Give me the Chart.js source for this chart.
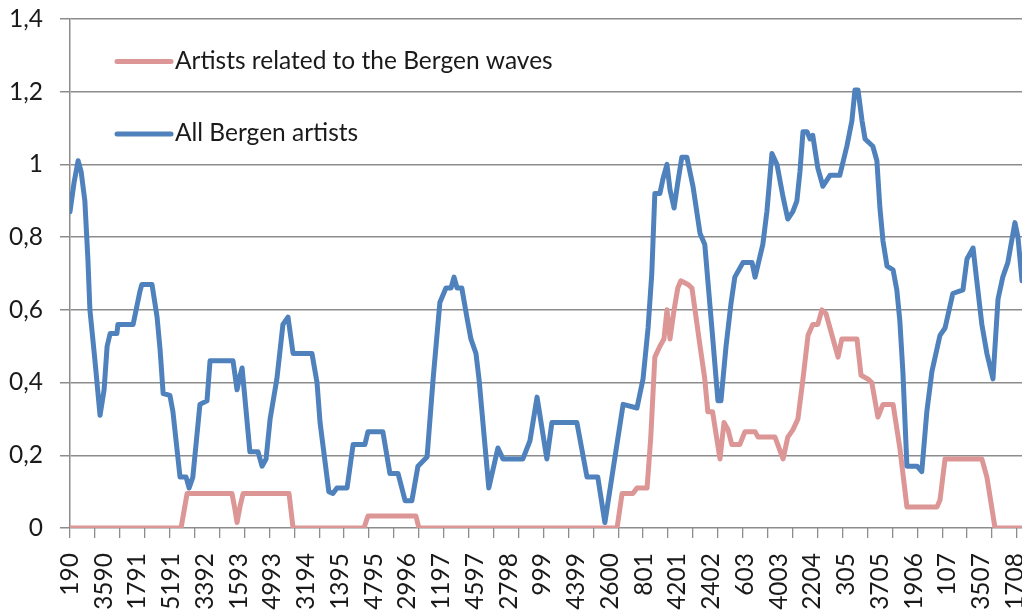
<!DOCTYPE html>
<html>
<head>
<meta charset="utf-8">
<script src="https://cdn.jsdelivr.net/npm/chart.js@4.4.1/dist/chart.umd.min.js"></script>
<style>
  html, body { margin: 0; padding: 0; background: #ffffff; }
  #wrap { position: relative; width: 1022px; height: 610px; }
</style>
</head>
<body>
<div id="wrap"><canvas id="c" width="1022" height="610"></canvas></div>
<script>
// ---- data ----
const tickLabels = ['190','3590','1791','5191','3392','1593','4993','3194','1395','4795','2996','1197','4597','2798','999','4399','2600','801','4201','2402','603','4003','2204','305','3705','1906','107','3507','1708'];
const yTickLabels = ['0','0,2','0,4','0,6','0,8','1','1,2','1,4'];
const seriesNames = ['Artists related to the Bergen waves', 'All Bergen artists'];

// x positions are in units of the label interval (0 = "190", 1 = "3590", ...)
const pinkX = [0,3.29,3.47,4.80,4.89,4.95,5.04,5.13,6.49,6.61,8.71,8.83,10.25,10.34,16.21,16.36,16.68,16.80,17.10,17.21,17.33,17.48,17.60,17.69,17.78,17.90,18.01,18.10,18.31,18.43,18.55,18.67,18.81,18.90,19.04,19.26,19.38,19.50,19.61,19.85,20.00,20.30,20.39,20.89,21.13,21.27,21.42,21.57,21.72,21.87,22.01,22.16,22.28,22.40,22.52,22.67,22.76,22.87,23.32,23.44,23.64,23.76,23.94,24.09,24.39,24.59,24.80,25.69,25.78,25.93,27.02,27.17,27.41,28.21];
const pinkY = [0,0,0.095,0.095,0.05,0.015,0.06,0.095,0.095,0,0,0.033,0.033,0,0,0.095,0.095,0.11,0.11,0.25,0.47,0.5,0.52,0.6,0.52,0.6,0.66,0.68,0.67,0.66,0.58,0.50,0.41,0.32,0.32,0.19,0.29,0.27,0.23,0.23,0.265,0.265,0.25,0.25,0.19,0.25,0.27,0.30,0.41,0.53,0.56,0.56,0.60,0.59,0.55,0.50,0.47,0.52,0.52,0.42,0.41,0.40,0.305,0.34,0.34,0.22,0.058,0.058,0.077,0.19,0.19,0.14,0,0];

const blueX = [0,0.12,0.24,0.33,0.44,0.53,0.59,0.74,0.89,1.01,1.10,1.19,1.39,1.42,1.87,1.96,2.07,2.13,2.43,2.58,2.67,2.76,2.96,3.05,3.26,3.44,3.53,3.64,3.85,4.06,4.15,4.83,4.95,5.04,5.10,5.16,5.33,5.57,5.69,5.81,5.93,6.13,6.31,6.46,6.61,7.17,7.32,7.41,7.67,7.79,7.91,8.21,8.39,8.74,8.83,9.27,9.48,9.72,9.93,10.13,10.31,10.58,10.76,10.96,11.14,11.29,11.38,11.47,11.61,11.76,11.88,12.03,12.12,12.41,12.68,12.83,13.42,13.63,13.84,14.13,14.28,15.02,15.32,15.64,15.85,16.09,16.39,16.80,16.98,17.13,17.24,17.33,17.48,17.57,17.69,17.78,17.90,18.01,18.13,18.28,18.46,18.67,18.81,19.02,19.20,19.29,19.44,19.59,19.70,19.94,20.21,20.30,20.53,20.65,20.80,20.95,21.13,21.27,21.42,21.54,21.63,21.72,21.84,21.93,22.01,22.16,22.31,22.52,22.81,23.02,23.17,23.26,23.35,23.47,23.56,23.79,23.91,24.00,24.09,24.21,24.39,24.50,24.59,24.68,24.80,25.10,25.24,25.39,25.54,25.78,25.93,26.16,26.46,26.58,26.76,26.87,27.02,27.17,27.35,27.50,27.64,27.79,28.00,28.09,28.21];
const blueY = [0.87,0.95,1.01,0.98,0.90,0.74,0.60,0.46,0.31,0.38,0.50,0.535,0.535,0.56,0.56,0.60,0.65,0.67,0.67,0.58,0.49,0.37,0.365,0.32,0.14,0.14,0.11,0.14,0.34,0.35,0.46,0.46,0.38,0.42,0.44,0.38,0.21,0.21,0.17,0.19,0.30,0.41,0.56,0.58,0.48,0.48,0.40,0.29,0.10,0.095,0.11,0.11,0.23,0.23,0.265,0.265,0.15,0.15,0.075,0.075,0.17,0.195,0.41,0.62,0.66,0.66,0.69,0.66,0.66,0.58,0.52,0.48,0.41,0.11,0.22,0.19,0.19,0.24,0.36,0.19,0.29,0.29,0.14,0.14,0.015,0.16,0.34,0.33,0.41,0.55,0.70,0.92,0.92,0.96,1.0,0.93,0.88,0.95,1.02,1.02,0.94,0.81,0.78,0.55,0.35,0.35,0.50,0.62,0.69,0.73,0.73,0.69,0.78,0.87,1.03,1.00,0.91,0.85,0.87,0.90,0.98,1.09,1.09,1.07,1.08,0.99,0.94,0.97,0.97,1.05,1.12,1.205,1.205,1.12,1.07,1.05,1.01,0.88,0.79,0.72,0.71,0.655,0.57,0.43,0.17,0.17,0.155,0.32,0.43,0.53,0.55,0.645,0.655,0.74,0.77,0.68,0.56,0.48,0.41,0.63,0.69,0.73,0.84,0.80,0.68];

const X_MAX = 28.21;
const TICK_MARK_STEP = 0.7384;   // tick marks are denser than the labels
const pink = '#DC9696';
const blue = '#4F81BD';
const gridColor = '#8C8C8C';
const FONT = 'Lato, "Open Sans", sans-serif';

const toPts = (xs, ys) => xs.map((x, i) => ({ x: x, y: ys[i] }));

const legendPlugin = {
  id: 'insideLegend',
  afterDraw(chart) {
    const ctx = chart.ctx;
    const rows = [{ ly: 61.5, ty: 68.5 }, { ly: 134, ty: 140.5 }];
    ctx.save();
    chart.data.datasets.forEach((ds, i) => {
      const r = rows[i];
      ctx.strokeStyle = ds.borderColor;
      ctx.lineWidth = 5;
      ctx.lineCap = 'round';
      ctx.beginPath();
      ctx.moveTo(117, r.ly);
      ctx.lineTo(171, r.ly);
      ctx.stroke();
      ctx.fillStyle = '#1a1a1a';
      ctx.font = '24.5px ' + FONT;
      ctx.textBaseline = 'alphabetic';
      ctx.textAlign = 'left';
      ctx.fillText(ds.label, 175, r.ty);
    });
    ctx.restore();
  }
};

new Chart(document.getElementById('c'), {
  type: 'line',
  data: {
    datasets: [
      { label: seriesNames[0], data: toPts(pinkX, pinkY), borderColor: pink, backgroundColor: pink,
        borderWidth: 5, pointRadius: 0, tension: 0, borderJoinStyle: 'round', borderCapStyle: 'round', order: 1 },
      { label: seriesNames[1], data: toPts(blueX, blueY), borderColor: blue, backgroundColor: blue,
        borderWidth: 5, pointRadius: 0, tension: 0, borderJoinStyle: 'round', borderCapStyle: 'round', order: 0 }
    ]
  },
  options: {
    responsive: false,
    animation: false,
    devicePixelRatio: 1,
    layout: { padding: { top: 19, left: 0, right: 0, bottom: 0 } },
    plugins: { legend: { display: false }, tooltip: { enabled: false } },
    scales: {
      x: {
        type: 'linear',
        min: 0,
        max: X_MAX,
        afterBuildTicks(axis) {
          const t = [];
          for (let i = 0; i < tickLabels.length; i++) t.push({ value: i, lab: tickLabels[i], mark: i === 0 });
          for (let k = 1; k * TICK_MARK_STEP <= X_MAX; k++) t.push({ value: k * TICK_MARK_STEP, lab: '', mark: true });
          t.sort((a, b) => a.value - b.value);
          axis.ticks = t;
        },
        afterFit(scale) { scale.height = 82; scale.paddingLeft = 0; scale.paddingRight = 0; },
        border: { display: false },
        grid: {
          drawOnChartArea: false,
          drawTicks: true,
          tickLength: 10,
          lineWidth: 1.3,
          tickColor: (c) => (c.tick && c.tick.mark) ? gridColor : 'rgba(0,0,0,0)'
        },
        ticks: {
          autoSkip: false,
          minRotation: 90,
          maxRotation: 90,
          padding: 15,
          color: '#1a1a1a',
          font: { family: FONT, size: 24.5 },
          callback(value, index, ticks) { return ticks[index].lab; }
        }
      },
      y: {
        min: 0,
        max: 1.4,
        afterFit(scale) { scale.width = 70; scale.paddingTop = 0; scale.paddingBottom = 0; },
        border: { display: true, color: gridColor, width: 1.5 },
        grid: { color: gridColor, lineWidth: 1.5, tickLength: 10, tickColor: gridColor },
        ticks: {
          stepSize: 0.2,
          padding: 17,
          color: '#1a1a1a',
          font: { family: FONT, size: 24.5 },
          callback(value, index) { return yTickLabels[index]; }
        }
      }
    }
  },
  plugins: [legendPlugin]
});
</script>
</body>
</html>
